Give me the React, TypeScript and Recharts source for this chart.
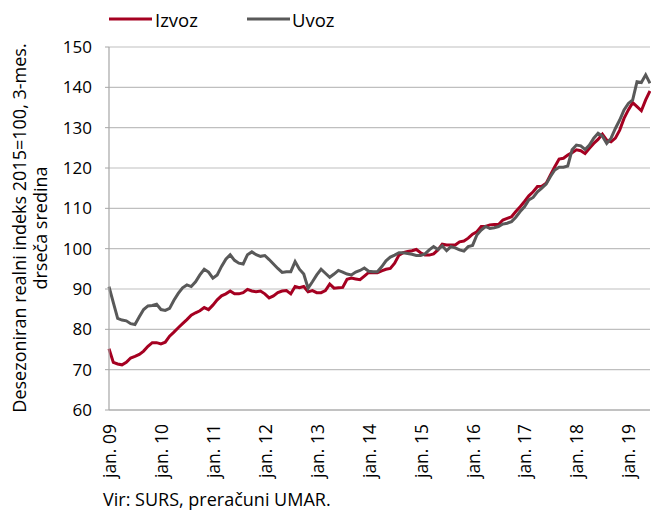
import { LineChart, Line, XAxis, YAxis, CartesianGrid } from 'recharts'

// Desezoniran realni indeks 2015=100, 3-mes. drseča sredina, jan. 2009 - jun. 2019
const izvoz = [
  75.2, 71.8, 71.4, 71.2, 71.8, 72.9, 73.3, 73.8, 74.6, 75.8, 76.7, 76.7,
  76.4, 76.8, 78.3, 79.3, 80.4, 81.4, 82.4, 83.5, 84.1, 84.6, 85.4, 84.9,
  86.0, 87.3, 88.3, 88.8, 89.5, 88.8, 88.8, 89.1, 89.9, 89.5, 89.3, 89.5,
  88.8, 87.8, 88.3, 89.1, 89.5, 89.6, 88.8, 90.6, 90.3, 90.6, 89.3, 89.6,
  89.1, 89.1, 89.6, 91.2, 90.2, 90.3, 90.4, 92.4, 92.7, 92.5, 92.3, 93.2,
  94.1, 94.0, 94.0, 94.5, 94.9, 95.1, 96.4, 98.4, 99.0, 99.3, 99.5, 99.8,
  99.0, 98.4, 98.4, 98.7, 99.7, 101.1, 100.9, 100.9, 100.9, 101.7, 101.9, 102.6,
  103.6, 104.2, 105.5, 105.5, 105.9, 106.0, 106.0, 107.1, 107.5, 107.9, 109.2, 110.4,
  111.7, 113.1, 114.1, 115.4, 115.5, 116.2, 118.3, 120.3, 122.2, 122.4, 123.2, 123.8,
  124.5, 124.3, 123.6, 124.9, 126.1, 127.1, 128.4, 126.9, 126.5, 127.4, 129.4, 132.3,
  134.4, 136.2, 135.2, 134.2, 136.9, 139.1,
]

const uvoz = [
  90.6, 86.6, 82.7, 82.3, 82.1, 81.4, 81.2, 83.1, 84.9, 85.8, 85.9, 86.2,
  84.9, 84.7, 85.2, 87.2, 88.9, 90.3, 91.0, 90.6, 91.8, 93.5, 94.9, 94.2,
  92.7, 93.5, 95.6, 97.4, 98.5, 97.1, 96.4, 96.2, 98.5, 99.2, 98.5, 98.1,
  98.3, 97.3, 96.2, 95.1, 94.1, 94.3, 94.3, 96.8, 94.9, 93.7, 90.2, 91.8,
  93.5, 94.9, 93.9, 92.9, 93.7, 94.6, 94.2, 93.7, 93.5, 94.2, 94.6, 95.2,
  94.4, 94.3, 94.3, 95.5, 97.0, 97.9, 98.4, 99.0, 99.0, 98.8, 98.6, 98.3,
  98.3, 98.7, 99.7, 100.5, 99.8, 100.7, 99.5, 100.5, 100.2, 99.7, 99.4, 100.5,
  100.8, 103.4, 104.6, 105.5, 105.0, 105.2, 105.5, 106.1, 106.3, 106.7, 107.8, 109.2,
  110.4, 112.1, 112.7, 114.1, 115.0, 116.0, 117.9, 119.5, 120.2, 120.2, 120.5, 124.5,
  125.7, 125.5, 124.6, 125.7, 127.4, 128.6, 127.9, 126.1, 127.4, 129.8, 131.9, 134.4,
  136.0, 136.9, 141.4, 141.2, 143.1, 141.0,
]

const yTicks = [60, 70, 80, 90, 100, 110, 120, 130, 140, 150]
const yearLabels = [
  'jan. 09', 'jan. 10', 'jan. 11', 'jan. 12', 'jan. 13', 'jan. 14',
  'jan. 15', 'jan. 16', 'jan. 17', 'jan. 18', 'jan. 19',
]

const months = izvoz.map(
  (_, i) => `${2009 + Math.floor(i / 12)}-${String((i % 12) + 1).padStart(2, '0')}`
)
const chartData = months.map((month, i) => ({
  month,
  izvoz: izvoz[i],
  uvoz: uvoz[i],
}))

const RED = '#A50021'
const GREY = '#595959'
const AXIS = '#A6A6A6'
const FONT = '"Open Sans", sans-serif'

const yearLabelOf = (m: string) => yearLabels[Number(m.slice(0, 4)) - 2009] ?? ''

function MonthTick({ x, y, payload }: any) {
  return (
    <text
      x={x}
      y={y}
      transform={`rotate(-90 ${x} ${y})`}
      textAnchor="end"
      dominantBaseline="central"
      fontSize={17.5}
      fontFamily={FONT}
      fill="#000"
    >
      {yearLabelOf(payload.value)}
    </text>
  )
}

export default function App() {
  return (
    <div style={{ position: 'absolute', left: 0, top: 0, width: 651, height: 511 }}>
      <LineChart
        width={651}
        height={511}
        data={chartData}
        margin={{ top: 47, right: 1, left: 0, bottom: 21 }}
      >
        <CartesianGrid vertical={false} stroke="#BFBFBF" strokeWidth={1.2} />
        <XAxis
          dataKey="month"
          interval={11}
          height={80}
          tickLine={false}
          tickSize={0}
          tickMargin={14}
          axisLine={{ stroke: AXIS, strokeWidth: 1.2 }}
          tick={<MonthTick />}
        />
        <YAxis
          width={109}
          domain={[60, 150]}
          ticks={yTicks}
          interval={0}
          tickSize={4}
          tickMargin={13}
          tickLine={{ stroke: AXIS }}
          axisLine={{ stroke: AXIS, strokeWidth: 1.2 }}
          tick={{ fontSize: 17, fontFamily: FONT, fill: '#000' }}
        />
        <Line
          type="linear"
          dataKey="izvoz"
          stroke={RED}
          strokeWidth={3}
          dot={false}
          isAnimationActive={false}
        />
        <Line
          type="linear"
          dataKey="uvoz"
          stroke={GREY}
          strokeWidth={3}
          dot={false}
          isAnimationActive={false}
        />
      </LineChart>
      <svg
        width={651}
        height={511}
        style={{ position: 'absolute', left: 0, top: 0, pointerEvents: 'none' }}
        fontFamily={FONT}
      >
        <line x1={109} x2={152} y1={19} y2={19} stroke={RED} strokeWidth={3} />
        <text x={155} y={27} fontSize={18.5} fill="#000">Izvoz</text>
        <line x1={247} x2={290} y1={19} y2={19} stroke={GREY} strokeWidth={3} />
        <text x={292} y={27} fontSize={18.5} fill="#000">Uvoz</text>
        <g transform="rotate(-90 19 228)">
          <text x={19} y={228} textAnchor="middle" dominantBaseline="central" fontSize={18} fill="#000">
            Desezoniran realni indeks 2015=100, 3-mes.
          </text>
        </g>
        <g transform="rotate(-90 40 228)">
          <text x={40} y={228} textAnchor="middle" dominantBaseline="central" fontSize={18} fill="#000">
            drseča sredina
          </text>
        </g>
        <text x={103} y={506} fontSize={18} fill="#000">Vir: SURS, preračuni UMAR.</text>
      </svg>
    </div>
  )
}
